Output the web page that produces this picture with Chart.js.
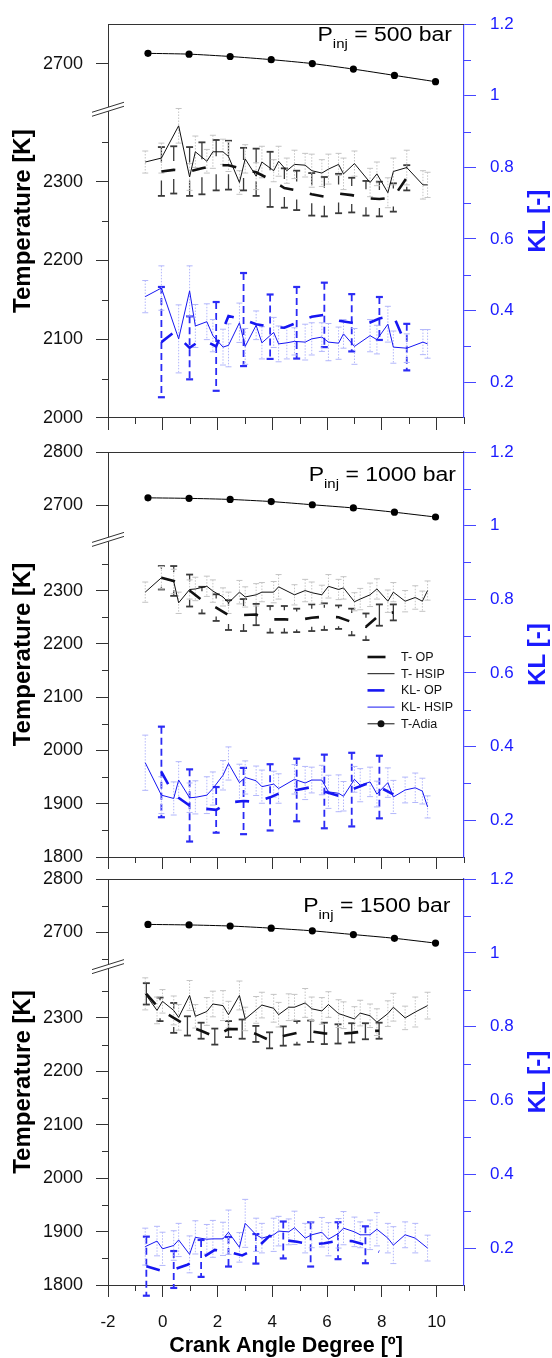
<!DOCTYPE html>
<html>
<head>
<meta charset="utf-8">
<title>Temperature and KL vs crank angle</title>
<script src="https://cdn.jsdelivr.net/npm/chart.js@4.4.1/dist/chart.umd.min.js"></script>
<style>
  html, body { margin: 0; padding: 0; background: #fff; }
  #wrap { position: relative; width: 552px; height: 1358px; overflow: hidden; }
  #wrap canvas { position: absolute; left: 0; top: 0; }
</style>
</head>
<body>
<div id="wrap">
  <canvas id="c500" width="552" height="1358"></canvas>
  <canvas id="c1000" width="552" height="1358"></canvas>
  <canvas id="c1500" width="552" height="1358"></canvas>
</div>
<script>
/* ==========================================
   Flame temperature & KL vs crank angle
   three stacked panels, broken T axis
   ========================================== */

const FONT = "'Liberation Sans', Arial, Helvetica, sans-serif";
const INK = '#111';
const KL_BLUE = '#1616f2';
const AXIS_BLUE = '#4646ff';

// ---- axis ticks ----
const xMajors = [-2, 0, 2, 4, 6, 8, 10];
const xMinors = [-1, 1, 3, 5, 7, 9, 11];
const klMajors = [0.2, 0.4, 0.6, 0.8, 1, 1.2];
const klMinors = [0.3, 0.5, 0.7, 0.9, 1.1];
const tMajors500 = [2000, 2100, 2200, 2300, 2700];
const tMinors500 = [2050, 2150, 2250, 2350];
const tMajors = [1800, 1900, 2000, 2100, 2200, 2300, 2700, 2800];
const tMinors1000 = [1850, 1950, 2050, 2150, 2250, 2350];
const tMinors1500 = [1850, 1950, 2050, 2150, 2250, 2350, 2650, 2750];

// ---- adiabatic flame temperature ----
const xAdia = [-0.54, 0.96, 2.46, 3.96, 5.46, 6.96, 8.46, 9.96];
const tAdia500 = [2713, 2712, 2709, 2705, 2700, 2693, 2685, 2677];
const tAdia1000 = [2714, 2713, 2711, 2707, 2701, 2695, 2687, 2678];
const tAdia1500 = [2715, 2714, 2712, 2708, 2703, 2696, 2689, 2680];

// ---- 500 bar ----
const xH500 = [-0.64, -0.05, 0.58, 0.98, 1.19, 1.61, 1.83, 2.2, 2.4, 2.8, 3.01, 3.41, 3.62, 4.05, 4.23, 4.53, 4.81, 5.2, 5.44, 5.81, 6.05, 6.42, 6.6, 7.0, 7.57, 7.82, 8.22, 8.42, 8.91, 9.5, 9.67];
const tH500 = [2325, 2330, 2371, 2306, 2338, 2326, 2338, 2338, 2332, 2299, 2329, 2307, 2325, 2314, 2326, 2314, 2322, 2321, 2314, 2311, 2316, 2322, 2310, 2323, 2299, 2310, 2286, 2313, 2318, 2296, 2296];
const tHErr500 = [14, 19, 22, 17, 20, 15, 21, 16, 19, 15, 18, 17, 20, 14, 19, 16, 18, 15, 21, 17, 19, 14, 20, 16, 18, 15, 19, 17, 22, 18, 16];
const klH500 = [0.439, 0.463, 0.321, 0.455, 0.357, 0.369, 0.330, 0.298, 0.303, 0.366, 0.300, 0.359, 0.310, 0.339, 0.307, 0.310, 0.314, 0.312, 0.321, 0.326, 0.312, 0.309, 0.335, 0.300, 0.330, 0.319, 0.362, 0.298, 0.295, 0.312, 0.307];
const klHErr500 = [0.045, 0.062, 0.095, 0.07, 0.06, 0.05, 0.045, 0.05, 0.06, 0.055, 0.05, 0.04, 0.045, 0.042, 0.05, 0.045, 0.038, 0.05, 0.045, 0.04, 0.052, 0.045, 0.04, 0.05, 0.045, 0.04, 0.05, 0.045, 0.04, 0.035, 0.04];
const xO500 = [-0.05, 0.40, 0.98, 1.43, 1.95, 2.40, 2.95, 3.41, 3.92, 4.44, 4.89, 5.44, 5.90, 6.42, 6.90, 7.42, 7.91, 8.42, 8.91];
const tO500 = [2313, 2315, 2313, 2317, 2321, 2321, 2316, 2312, 2303, 2292, 2289, 2284, 2281, 2285, 2283, 2279, 2278, 2280, 2305];
const tOErr500 = [31, 30, 31, 33, 32, 31, 27, 30, 35, 25, 25, 27, 25, 25, 22, 22, 22, 18, 16];
const klO500 = [0.312, 0.339, 0.296, 0.320, 0.300, 0.385, 0.375, 0.362, 0.355, 0.352, 0.366, 0.383, 0.388, 0.372, 0.366, 0.362, 0.378, 0.387, 0.298];
const klOErr500 = [0.154, null, 0.088, null, 0.124, null, 0.13, null, 0.09, null, 0.10, null, 0.09, null, 0.08, null, 0.06, null, 0.065];

// ---- 1000 bar ----
const xH1000 = [-0.64, -0.05, 0.40, 0.58, 0.98, 1.19, 1.61, 1.83, 2.2, 2.40, 2.80, 3.01, 3.41, 3.62, 4.05, 4.23, 4.81, 5.2, 5.44, 5.81, 6.05, 6.42, 6.6, 7.0, 7.21, 7.57, 7.82, 8.22, 8.42, 8.85, 9.22, 9.48, 9.67];
const tH1000 = [2297, 2324, 2317, 2277, 2302, 2303, 2308, 2299, 2288, 2277, 2297, 2288, 2292, 2297, 2297, 2307, 2292, 2300, 2296, 2292, 2308, 2302, 2305, 2279, 2284, 2292, 2303, 2280, 2297, 2280, 2287, 2280, 2300];
const tHErr1000 = [19, 21, 23, 20, 18, 22, 19, 21, 17, 20, 22, 19, 21, 18, 20, 23, 19, 21, 20, 18, 22, 19, 21, 17, 20, 22, 19, 21, 18, 20, 22, 19, 18];
const klH1000 = [0.356, 0.268, 0.259, 0.309, 0.261, 0.262, 0.268, 0.286, 0.322, 0.354, 0.302, 0.316, 0.307, 0.291, 0.298, 0.286, 0.311, 0.301, 0.309, 0.309, 0.277, 0.273, 0.265, 0.311, 0.295, 0.304, 0.271, 0.302, 0.263, 0.282, 0.288, 0.279, 0.236];
const klHErr1000 = [0.075, 0.05, 0.045, 0.05, 0.04, 0.045, 0.05, 0.045, 0.04, 0.045, 0.05, 0.045, 0.04, 0.045, 0.035, 0.04, 0.04, 0.045, 0.035, 0.04, 0.045, 0.05, 0.04, 0.035, 0.045, 0.04, 0.035, 0.04, 0.045, 0.035, 0.04, 0.035, 0.03];
const xO1000 = [-0.05, 0.40, 0.98, 1.43, 1.95, 2.40, 2.95, 3.41, 3.92, 4.44, 4.89, 5.44, 5.90, 6.42, 6.90, 7.42, 7.91, 8.42];
const tO1000 = [2324, 2318, 2300, 2282, 2268, 2254, 2254, 2255, 2246, 2246, 2244, 2249, 2251, 2250, 2241, 2232, 2254, 2259];
const tOErr1000 = [22, 28, 30, 25, 25, 28, 30, 20, 25, 25, 22, 25, 25, 22, 25, 25, 20, 15];
const klO1000 = [0.331, 0.27, 0.24, 0.232, 0.228, 0.248, 0.252, 0.25, 0.262, 0.279, 0.282, 0.29, 0.278, 0.266, 0.283, 0.298, 0.29, 0.27];
const klOErr1000 = [0.123, null, 0.098, null, 0.062, null, 0.09, null, 0.09, null, 0.085, null, 0.1, null, 0.1, null, 0.085, null];

// ---- 1500 bar ----
const xH1500 = [-0.64, -0.21, -0.01, 0.40, 0.58, 0.98, 1.19, 1.61, 1.83, 2.2, 2.40, 2.80, 3.01, 3.41, 3.62, 4.05, 4.23, 4.6, 4.81, 5.2, 5.44, 5.81, 6.05, 6.42, 6.6, 7.0, 7.21, 7.57, 7.82, 8.22, 8.42, 8.85, 9.22, 9.67];
const tH1500 = [2345, 2314, 2331, 2314, 2301, 2342, 2303, 2312, 2326, 2323, 2306, 2342, 2298, 2315, 2324, 2318, 2306, 2320, 2320, 2328, 2317, 2313, 2325, 2308, 2305, 2298, 2309, 2304, 2292, 2308, 2320, 2300, 2311, 2323];
const tHErr1500 = [30, 25, 22, 27, 24, 28, 22, 26, 24, 28, 25, 27, 22, 25, 24, 26, 23, 25, 24, 27, 22, 25, 24, 26, 25, 23, 24, 22, 25, 24, 26, 22, 28, 25];
const klH1500 = [0.204, 0.219, 0.198, 0.207, 0.222, 0.183, 0.229, 0.224, 0.225, 0.225, 0.243, 0.202, 0.267, 0.236, 0.227, 0.236, 0.246, 0.244, 0.255, 0.227, 0.236, 0.243, 0.224, 0.240, 0.254, 0.244, 0.236, 0.236, 0.251, 0.227, 0.208, 0.236, 0.227, 0.200];
const klHErr1500 = [0.05, 0.04, 0.045, 0.04, 0.045, 0.05, 0.045, 0.04, 0.05, 0.045, 0.06, 0.04, 0.065, 0.045, 0.04, 0.045, 0.04, 0.035, 0.045, 0.04, 0.035, 0.04, 0.045, 0.04, 0.045, 0.04, 0.035, 0.04, 0.045, 0.04, 0.05, 0.035, 0.04, 0.035];
const xO1500 = [-0.6, -0.1, 0.4, 0.9, 1.4, 1.9, 2.4, 2.9, 3.4, 3.9, 4.4, 4.9, 5.4, 5.9, 6.4, 6.9, 7.4, 7.9];
const tO1500 = [2345, 2316, 2300, 2285, 2276, 2265, 2279, 2279, 2270, 2258, 2266, 2272, 2275, 2271, 2270, 2272, 2275, 2276];
const tOErr1500 = [20, 22, 28, 18, 15, 15, 15, 18, 15, 15, 18, 22, 20, 20, 18, 18, 15, 15];
const klO1500 = [0.151, 0.140, 0.142, 0.155, 0.172, 0.195, 0.19, 0.18, 0.198, 0.233, 0.222, 0.217, 0.21, 0.213, 0.22, 0.219, 0.209, 0.19];
const klOErr1500 = [0.08, null, 0.05, null, 0.05, null, 0.04, null, 0.04, null, 0.05, null, 0.06, null, 0.05, null, 0.05, null];

// error bar looks
const ERR_T_HSIP = { color: '#c4c4c4', width: 1, dash: [1.5, 1.5], cap: 6, capWidth: 1, gap: 0 };
const ERR_KL_HSIP = { color: '#b3b7fb', width: 1, dash: [1.5, 1.5], cap: 6, capWidth: 1, gap: 0 };
const ERR_T_OP = { color: '#3a3a3a', width: 1.3, dash: [], cap: 7, capWidth: 1.8, gap: 9 };
const ERR_KL_OP = { color: '#2b2bf5', width: 1.8, dash: [7, 4], cap: 7, capWidth: 2.2, gap: 0 };

// panel layout (page pixels) and which arrays go where
const panels = [
  { id: 'c500', label: '500', top: 14, bottom: 418, off: 250, yMin: 2000, yTop: 2750, breakAt: 2392,
    tMajors: tMajors500, tMinors: tMinors500, labelRight: 452, labelBase: 40.7,
    xH: xH500, tH: tH500, tHErr: tHErr500, klH: klH500, klHErr: klHErr500,
    xO: xO500, tO: tO500, tOErr: tOErr500, klO: klO500, klOErr: klOErr500, tAdia: tAdia500 },
  { id: 'c1000', label: '1000', top: 452, bottom: 857, off: 240, yMin: 1800, yTop: 2800, breakAt: 2396,
    tMajors: tMajors, tMinors: tMinors1000, labelRight: 456, labelBase: 480.7, legend: true,
    xH: xH1000, tH: tH1000, tHErr: tHErr1000, klH: klH1000, klHErr: klHErr1000,
    xO: xO1000, tO: tO1000, tOErr: tOErr1000, klO: klO1000, klOErr: klOErr1000, tAdia: tAdia1000 },
  { id: 'c1500', label: '1500', top: 879, bottom: 1285, off: 240, yMin: 1800, yTop: 2800, breakAt: 2396,
    tMajors: tMajors, tMinors: tMinors1500, labelRight: 450.5, labelBase: 912, xLabels: true,
    xH: xH1500, tH: tH1500, tHErr: tHErr1500, klH: klH1500, klHErr: klHErr1500,
    xO: xO1500, tO: tO1500, tOErr: tOErr1500, klO: klO1500, klOErr: klOErr1500, tAdia: tAdia1500 },
];

const legendItems = [
  { text: 'T- OP', color: INK, width: 2.6, len: 18 },
  { text: 'T- HSIP', color: INK, width: 1, len: 27 },
  { text: 'KL- OP', color: KL_BLUE, width: 2.6, len: 17 },
  { text: 'KL- HSIP', color: KL_BLUE, width: 1, len: 27 },
  { text: 'T-Adia', color: INK, width: 1, len: 27, dot: true },
];

// the T axis jumps from ~2390 to ~2640, so values above the gap are shifted down
function broken(v, off) { return v >= 2500 ? v - off : v; }
function unbroken(v, off) { return v >= 2400 ? v + off : v; }

function line(ctx, x1, y1, x2, y2) {
  ctx.beginPath();
  ctx.moveTo(x1, y1);
  ctx.lineTo(x2, y2);
  ctx.stroke();
}
const crisp = v => Math.round(v) + 0.5;

const errorBars = {
  id: 'errorBars',
  beforeDatasetsDraw(chart) {
    const { ctx } = chart;
    const xs = chart.scales.x;
    chart.data.datasets.forEach(ds => {
      if (!ds.errs) return;
      const ys = chart.scales[ds.yAxisID];
      const s = ds.errStyle;
      ctx.save();
      ds.data.forEach((p, i) => {
        const e = ds.errs[i];
        if (e == null) return;
        const px = xs.getPixelForValue(p.x);
        const yc = ys.getPixelForValue(p.y);
        const yt = ys.getPixelForValue(p.y + e);
        const yb = ys.getPixelForValue(p.y - e);
        ctx.strokeStyle = s.color;
        ctx.lineWidth = s.width;
        ctx.setLineDash(s.dash);
        ctx.beginPath();
        if (s.gap && yc - yt > s.gap + 2) {
          ctx.moveTo(px, yt); ctx.lineTo(px, yc - s.gap);
          ctx.moveTo(px, yc + s.gap); ctx.lineTo(px, yb);
        } else {
          ctx.moveTo(px, yt); ctx.lineTo(px, yb);
        }
        ctx.stroke();
        ctx.setLineDash([]);
        ctx.lineWidth = s.capWidth;
        line(ctx, px - s.cap / 2, yt, px + s.cap / 2, yt);
        line(ctx, px - s.cap / 2, yb, px + s.cap / 2, yb);
      });
      ctx.restore();
    });
  }
};

function decorPlugin(p) {
  return {
    id: 'decor',
    afterDraw(chart) {
      const { ctx, chartArea: a } = chart;
      const ys = chart.scales.y, ks = chart.scales.y1, xs = chart.scales.x;
      ctx.save();

      // top edge of frame + minor ticks
      ctx.strokeStyle = '#333';
      ctx.lineWidth = 1;
      line(ctx, a.left, crisp(a.top), a.right, crisp(a.top));
      p.tMinors.forEach(v => {
        const y = crisp(ys.getPixelForValue(broken(v, p.off)));
        line(ctx, a.left - 6, y, a.left, y);
      });
      xMinors.forEach(v => {
        const x = crisp(xs.getPixelForValue(v));
        line(ctx, x, a.bottom, x, a.bottom + 6);
      });
      ctx.strokeStyle = AXIS_BLUE;
      klMinors.forEach(v => {
        const y = crisp(ks.getPixelForValue(v));
        line(ctx, a.right, y, a.right + 7, y);
      });

      // axis break marks
      const yb = ys.getPixelForValue(p.breakAt);
      const x0 = a.left;
      ctx.fillStyle = '#fff';
      ctx.beginPath();
      ctx.moveTo(x0 - 16, yb + 7); ctx.lineTo(x0 + 16, yb - 3);
      ctx.lineTo(x0 + 16, yb - 7); ctx.lineTo(x0 - 16, yb + 3);
      ctx.closePath();
      ctx.fill();
      ctx.strokeStyle = '#333';
      line(ctx, x0 - 16, yb + 7, x0 + 16, yb - 3);
      line(ctx, x0 - 16, yb + 3, x0 + 16, yb - 7);

      // axis titles
      const cy = (a.top + a.bottom) / 2;
      ctx.textAlign = 'center';
      ctx.textBaseline = 'alphabetic';
      ctx.font = `bold 24px ${FONT}`;
      ctx.save();
      ctx.translate(30, cy); ctx.rotate(-Math.PI / 2);
      ctx.fillStyle = '#000';
      ctx.fillText('Temperature [K]', 0, 0);
      ctx.restore();
      ctx.save();
      ctx.translate(545, cy); ctx.rotate(-Math.PI / 2);
      ctx.fillStyle = '#1a1aff';
      ctx.fillText('KL [-]', 0, 0);
      ctx.restore();

      if (p.xLabels) {
        ctx.fillStyle = '#000';
        ctx.font = `bold 21.5px ${FONT}`;
        ctx.fillText('Crank Angle Degree [\u00BA]', (a.left + a.right) / 2, 1352);
      }

      // P_inj label, slightly stretched to match the wide lettering
      ctx.textAlign = 'left';
      ctx.fillStyle = '#000';
      const big = `20px ${FONT}`, small = `13px ${FONT}`;
      const rest = ' = ' + p.label + ' bar';
      ctx.font = big;
      const wP = ctx.measureText('P').width, wR = ctx.measureText(rest).width;
      ctx.font = small;
      const wS = ctx.measureText('inj').width;
      const sx = 1.15;
      ctx.save();
      ctx.translate(p.labelRight - (wP + wS + wR) * sx, p.labelBase);
      ctx.scale(sx, 1);
      ctx.font = big; ctx.fillText('P', 0, 0);
      ctx.font = small; ctx.fillText('inj', wP, 7);
      ctx.font = big; ctx.fillText(rest, wP + wS, 0);
      ctx.restore();

      if (p.legend) {
        ctx.font = `12.5px ${FONT}`;
        ctx.textBaseline = 'middle';
        legendItems.forEach((it, i) => {
          const y = a.top + 205 + i * 16.7;
          ctx.strokeStyle = it.color;
          ctx.lineWidth = it.width;
          line(ctx, 367.5, y, 367.5 + it.len, y);
          if (it.dot) {
            ctx.fillStyle = it.color;
            ctx.beginPath(); ctx.arc(381, y, 3.5, 0, Math.PI * 2); ctx.fill();
          }
          ctx.fillStyle = '#111';
          ctx.fillText(it.text, 401, y + 0.5);
        });
      }
      ctx.restore();
    }
  };
}

function pts(xs, vals, f) {
  return xs.map((x, i) => ({ x, y: f ? f(vals[i]) : vals[i] }));
}

function buildPanel(p) {
  const t = v => broken(v, p.off);
  const thin = { pointRadius: 0, borderWidth: 1, tension: 0, fill: false };
  const thick = { pointRadius: 0, borderWidth: 2.6, tension: 0, fill: false, borderDash: [14, 17], borderCapStyle: 'butt' };

  return new Chart(document.getElementById(p.id), {
    type: 'line',
    data: {
      datasets: [
        { label: 'T-Adia', data: pts(xAdia, p.tAdia, t), yAxisID: 'y', borderColor: '#000', borderWidth: 1,
          pointRadius: 3.6, pointBackgroundColor: '#000', pointBorderWidth: 0, tension: 0.2 },
        { label: 'T- OP', data: pts(p.xO, p.tO, t), yAxisID: 'y', borderColor: INK, ...thick,
          errs: p.tOErr, errStyle: ERR_T_OP },
        { label: 'KL- OP', data: pts(p.xO, p.klO), yAxisID: 'y1', borderColor: KL_BLUE, ...thick,
          errs: p.klOErr, errStyle: ERR_KL_OP },
        { label: 'T- HSIP', data: pts(p.xH, p.tH, t), yAxisID: 'y', borderColor: INK, ...thin,
          errs: p.tHErr, errStyle: ERR_T_HSIP },
        { label: 'KL- HSIP', data: pts(p.xH, p.klH), yAxisID: 'y1', borderColor: KL_BLUE, ...thin,
          errs: p.klHErr, errStyle: ERR_KL_HSIP },
      ]
    },
    options: {
      responsive: false,
      animation: false,
      events: [],
      layout: { padding: { top: p.top, left: 0, right: 0, bottom: 0 } },
      plugins: { legend: { display: false }, tooltip: { enabled: false } },
      scales: {
        x: {
          type: 'linear', position: 'bottom', min: -2, max: 11,
          afterBuildTicks: s => { s.ticks = xMajors.map(v => ({ value: v })); },
          afterFit: s => { s.height = 1358 - p.bottom; },
          ticks: { display: !!p.xLabels, autoSkip: false, maxRotation: 0, padding: 15,
                   color: '#111', font: { family: FONT, size: 17 } },
          grid: { drawOnChartArea: false, drawTicks: true, tickLength: 12, tickColor: '#333' },
          border: { color: '#333', width: 1 }
        },
        y: {
          position: 'left', min: p.yMin, max: p.yTop - p.off,
          afterBuildTicks: s => { s.ticks = p.tMajors.map(v => ({ value: t(v) })); },
          afterFit: s => { s.width = 108; },
          ticks: { autoSkip: false, padding: 13, color: '#111', font: { family: FONT, size: 18 },
                   callback: v => String(unbroken(v, p.off)) },
          grid: { drawOnChartArea: false, drawTicks: true, tickLength: 12, tickColor: '#333' },
          border: { color: '#333', width: 1 }
        },
        y1: {
          position: 'right', min: 0.1, max: 1.2,
          afterBuildTicks: s => { s.ticks = klMajors.map(v => ({ value: v })); },
          afterFit: s => { s.width = 88; },
          ticks: { autoSkip: false, padding: 14, color: '#1a1aff', font: { family: FONT, size: 17 },
                   callback: v => (v === 1 ? '1' : v.toFixed(1)) },
          grid: { drawOnChartArea: false, drawTicks: true, tickLength: 12, tickColor: AXIS_BLUE },
          border: { color: AXIS_BLUE, width: 1.2 }
        }
      }
    },
    plugins: [errorBars, decorPlugin(p)]
  });
}

panels.forEach(buildPanel);
</script>
</body>
</html>
